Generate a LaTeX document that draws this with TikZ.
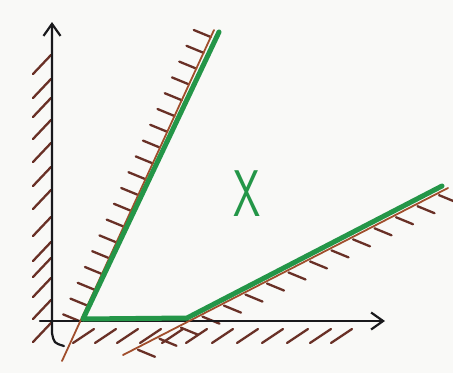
\documentclass[tikz,border=0pt]{standalone}
\usetikzlibrary{calc,arrows.meta}
\definecolor{bgc}{RGB}{249,249,247}
\definecolor{penGreen}{RGB}{36,150,72}
\definecolor{penBrown}{RGB}{160,78,44}
\definecolor{penHatch}{RGB}{105,48,38}
\definecolor{penBlack}{RGB}{25,25,28}
\tikzset{
  hatch/.style={draw=penHatch, line width=2.3pt, line cap=round},
  brownline/.style={draw=penBrown, line width=1.8pt, line cap=round},
  greenline/.style={draw=penGreen, line width=5pt, line cap=round, line join=round},
  axisline/.style={draw=penBlack, line width=2.2pt, line cap=round},
  axisarrow/.style={-{Straight Barb[length=12pt,width=17pt,line width=2.2pt]}},
}
\begin{document}
\begin{tikzpicture}[x=1pt,y=-1pt]
\useasboundingbox[fill=bgc] (0,0) rectangle (453,373);
% named points
\coordinate (Ytip) at (52,22);
\coordinate (Ybot) at (52,333);
\coordinate (Ycurl) at (64,346);
\coordinate (Xstart) at (40,321);
\coordinate (Xtip) at (385,321);
\coordinate (G0) at (83,319);
\coordinate (G1) at (219,32);
\coordinate (G2) at (187,318);
\coordinate (G3) at (442,186);
\coordinate (B1t) at (214,30);
\coordinate (B1b) at (62,361);
\coordinate (B2t) at (448,188);
\coordinate (B2b) at (123,355);
% hatches left of the vertical axis
\foreach \y in {55,79,98,120,143,167,190,217,242,258,278,300,323}
  \draw[hatch] (33,{\y+19}) -- (51,\y);
% hatches below the horizontal axis
\foreach \x in {73,95,117,140,162,186,212,237,262,287,310,331}
  \draw[hatch] (\x,343) -- ++(21,-14);
% hatches along the steep line (upper-left side)
\foreach \i in {0,...,18}{
  \pgfmathsetmacro\t{(7+15.8*\i)/331}
  \draw[hatch] ($(B1t)!\t!(B1b)$) -- ++(-17,-7);
}
% hatches along the shallow line (lower side)
\foreach \i in {0,...,14}{
  \pgfmathsetmacro\t{(10+21.5*\i)/325}
  \draw[hatch] ($(B2t)!\t!(B2b)$) ++(1,2) -- ++(17,7);
}
% axes
\draw[axisline,axisarrow] (Xstart) -- (Xtip);
\draw[axisline,axisarrow] (Ycurl) .. controls (54,343) .. (Ybot) -- (Ytip);
% brown boundary lines
\draw[brownline] (B1b) -- (B1t);
\draw[brownline] (B2b) -- (B2t);
% green region boundary
\draw[greenline] (G1) -- (G0) -- (G2) -- (G3);
% label
\node[text=penGreen, inner sep=0pt, font=\fontsize{66}{66}\selectfont\sffamily] (lblX) at (247,194) {\scalebox{0.66}[1]{X}};
\end{tikzpicture}
\end{document}
